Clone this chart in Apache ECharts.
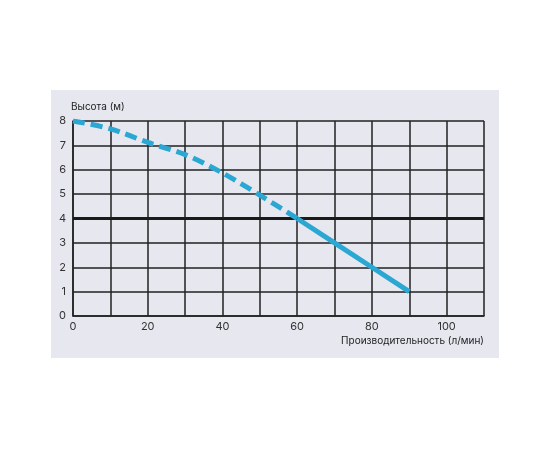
<!DOCTYPE html>
<html>
<head>
<meta charset="utf-8">
<script src="https://cdn.jsdelivr.net/npm/echarts@6/dist/echarts.min.js"></script>
<style>html,body{margin:0;padding:0;background:#fff}#c{width:550px;height:450px}</style>
</head>
<body>
<div id="c"></div>
<script>
const xTicks = [0, 20, 40, 60, 80, 100];
const yTicks = [0, 1, 2, 3, 4, 5, 6, 7, 8];
const flowDashed = [0, 10, 20, 30, 40, 50, 60];
const headDashed = [8.0, 7.68, 7.12, 6.62, 5.87, 4.96, 4.0];
const flowSolid = [60, 70, 80, 90];
const headSolid = [4.0, 3.0, 2.0, 1.0];
const refHead = 4;
const yName = 'Высота (м)';
const xName = 'Производительность (л/мин)';

const chart = echarts.init(document.getElementById('c'), null, {renderer: 'canvas'});
const font = 'Inter, "Open Sans", sans-serif';
const blue = '#2aa7d3';
chart.setOption({
  animation: false,
  backgroundColor: '#ffffff',
  graphic: [{
    type: 'rect', z: -10, silent: true,
    shape: {x: 51, y: 90, width: 448, height: 268},
    style: {fill: '#e6e7ef'}
  }],
  grid: {left: 73, right: 66, top: 121, bottom: 134, containLabel: false, outerBoundsMode: 'none'},
  xAxis: {
    type: 'value', min: 0, max: 110, interval: 10,
    name: xName, nameLocation: 'end', nameGap: 0,
    nameTextStyle: {fontFamily: font, fontSize: 10, color: '#222', align: 'right', verticalAlign: 'top', padding: [20, 0, 0, 0]},
    axisLine: {show: true, lineStyle: {color: '#222', width: 1.5}},
    axisTick: {show: false},
    axisLabel: {
      fontFamily: font, fontSize: 11, color: '#333', margin: 5,
      formatter: v => xTicks.indexOf(v) >= 0 ? String(v) : ''
    },
    splitLine: {show: true, lineStyle: {color: '#222', width: 1.5}}
  },
  yAxis: {
    type: 'value', min: 0, max: 8, interval: 1,
    name: yName, nameLocation: 'end', nameGap: 9,
    nameTextStyle: {fontFamily: font, fontSize: 10, color: '#222', align: 'left', padding: [0, 0, 0, -2]},
    axisLine: {show: true, lineStyle: {color: '#222', width: 1.5}},
    axisTick: {show: false},
    axisLabel: {
      fontFamily: font, fontSize: 11, color: '#333', margin: 7, padding: [0, 0, 3, 0],
      formatter: v => yTicks.indexOf(v) >= 0 ? String(v) : ''
    },
    splitLine: {show: true, lineStyle: {color: '#222', width: 1.5}}
  },
  series: [
    {
      type: 'line', data: [], z: 1,
      markLine: {
        silent: true, symbol: 'none', label: {show: false},
        lineStyle: {color: '#1a1a1a', width: 3, type: 'solid'},
        data: [{yAxis: refHead}]
      }
    },
    {
      type: 'line', z: 5, smooth: 0.3, showSymbol: false,
      data: flowDashed.map((x, i) => [x, headDashed[i]]),
      lineStyle: {color: blue, width: 5, type: [12, 6]}
    },
    {
      type: 'line', z: 5, smooth: false, showSymbol: false,
      data: flowSolid.map((x, i) => [x, headSolid[i]]),
      lineStyle: {color: blue, width: 5, type: 'solid'}
    }
  ]
});
</script>
</body>
</html>
